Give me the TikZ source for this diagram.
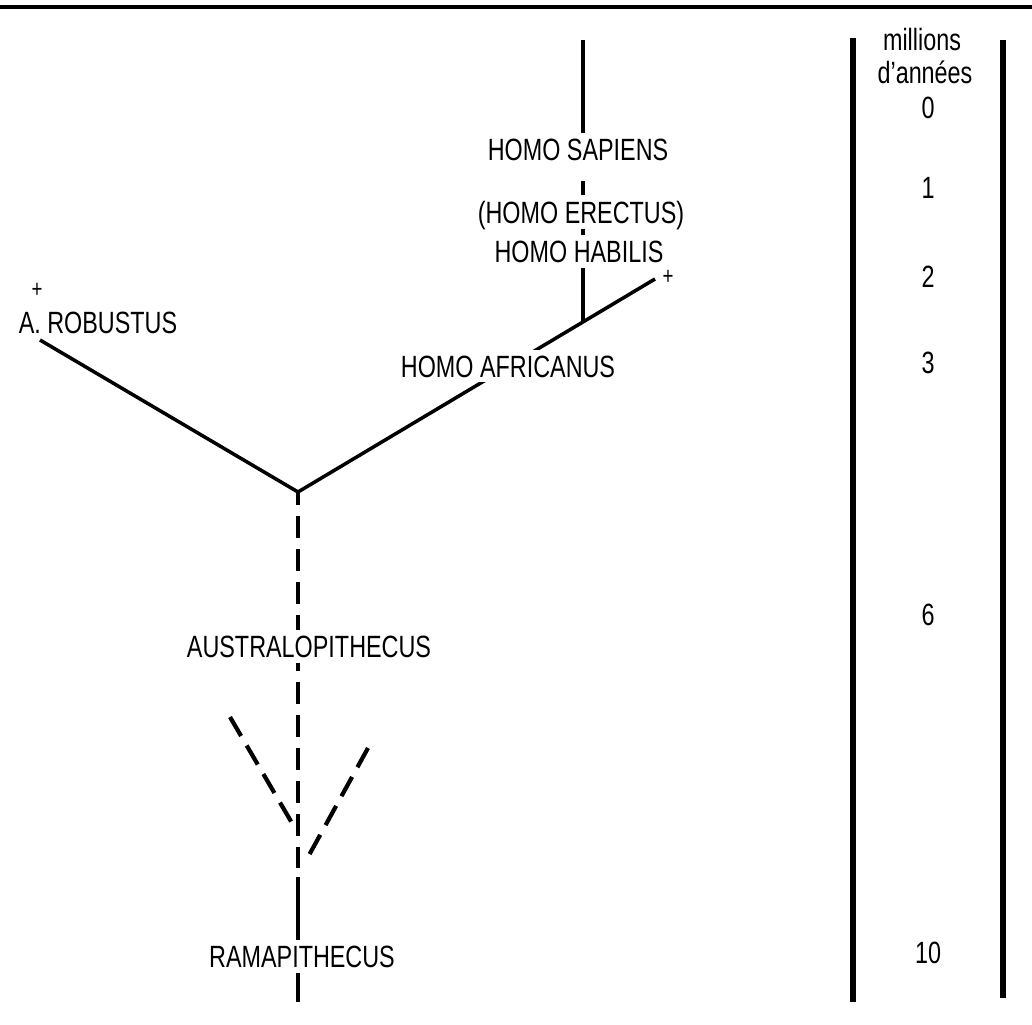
\documentclass[tikz,border=0pt]{standalone}
\usepackage{fontspec}
\setmainfont[FakeStretch=0.76]{Liberation Sans}
\usetikzlibrary{positioning,backgrounds}

\begin{document}
\begin{tikzpicture}[x=0.02cm, y=-0.02cm,
    taxon/.style={font=\fontsize{17.5}{20}\selectfont, inner xsep=2pt, inner ysep=3pt, text depth=0pt, anchor=base, fill=white},
    age/.style={font=\fontsize{17.5}{20}\selectfont, inner sep=0pt, anchor=base},
    extinct/.style={font=\fontsize{14}{15}\selectfont, inner sep=0pt},
    branch/.style={line width=2pt},
    guess/.style={line width=2.4pt, dash pattern=on 12.5pt off 6.3pt},
    scalebar/.style={line width=3.6pt}]
    \useasboundingbox (0,0) rectangle (1032,1025);

    % Top rule
    \coordinate (ruleL) at (0,7);
    \coordinate (ruleR) at (1032,7);
    \draw[line width=2.3pt] (ruleL) -- (ruleR);

    % Branch points and loose ends
    \coordinate (top) at (583,40);
    \coordinate (homo) at (583,322);
    \coordinate (habEnd) at (655,279);
    \coordinate (root) at (298,492);
    \coordinate (robEnd) at (40,340);
    \coordinate (dashEnd) at (298,868);
    \coordinate (leftTip) at (230,717);
    \coordinate (leftFoot) at (292,823);
    \coordinate (rightTip) at (368,748);
    \coordinate (rightFoot) at (308,857);
    \coordinate (ramaTop) at (298,877);
    \coordinate (bottom) at (298,1002);

    % Names
    \node[taxon] (sapiens) at (578,160) {HOMO SAPIENS};
    \node[taxon] (erectus) at (581,223) {(HOMO ERECTUS)};
    \node[taxon] (habilis) at (579,262) {HOMO HABILIS};
    \node[taxon] (africanus) at (508,377) {HOMO AFRICANUS};
    \node[taxon] (robustus) at (98,333) {A. ROBUSTUS};
    \node[taxon] (austral) at (309,657) {AUSTRALOPITHECUS};
    \node[taxon] (rama) at (302,967) {RAMAPITHECUS};
    \node[extinct] (robPlus) at (37,290) {+};
    \node[extinct] (habPlus) at (668,277) {+};

    % Main fork, behind the names
    \begin{scope}[on background layer]
        \draw[branch] (robEnd) -- (root) -- (habEnd);
    \end{scope}

    % Homo line
    \draw[branch] (top) -- (sapiens.north -| top);
    \draw[branch, shorten <=9pt] (sapiens.south -| top) -- (erectus.north -| top);
    \draw[branch] (erectus.south -| top) -- (habilis.north -| top);
    \draw[branch] (habilis.south -| top) -- (homo);

    % Uncertain stem and side branches
    \draw[guess, dash phase=5.1pt] (root) -- (austral.north -| root);
    \draw[guess, dash phase=8pt] (austral.south -| root) -- (dashEnd);
    \draw[guess] (leftTip) -- (leftFoot);
    \draw[guess] (rightTip) -- (rightFoot);

    % Ramapithecus stem
    \draw[branch] (ramaTop) -- (rama.north -| root);
    \draw[branch] (rama.south -| root) -- (bottom);

    % Time scale
    \coordinate (barLT) at (853,38);
    \coordinate (barLB) at (853,1002);
    \coordinate (barRT) at (1003,40);
    \coordinate (barRB) at (1003,998);
    \draw[scalebar] (barLT) -- (barLB);
    \draw[scalebar] (barRT) -- (barRB);
    \node[age] (unit1) at (922,50) {millions};
    \node[age] (unit2) at (925,83) {d'années};
    \foreach \t/\y in {0/118, 1/198, 2/287, 3/373, 6/625, 10/963}
        \node[age] (age\t) at (928,\y) {\t};
\end{tikzpicture}
\end{document}
